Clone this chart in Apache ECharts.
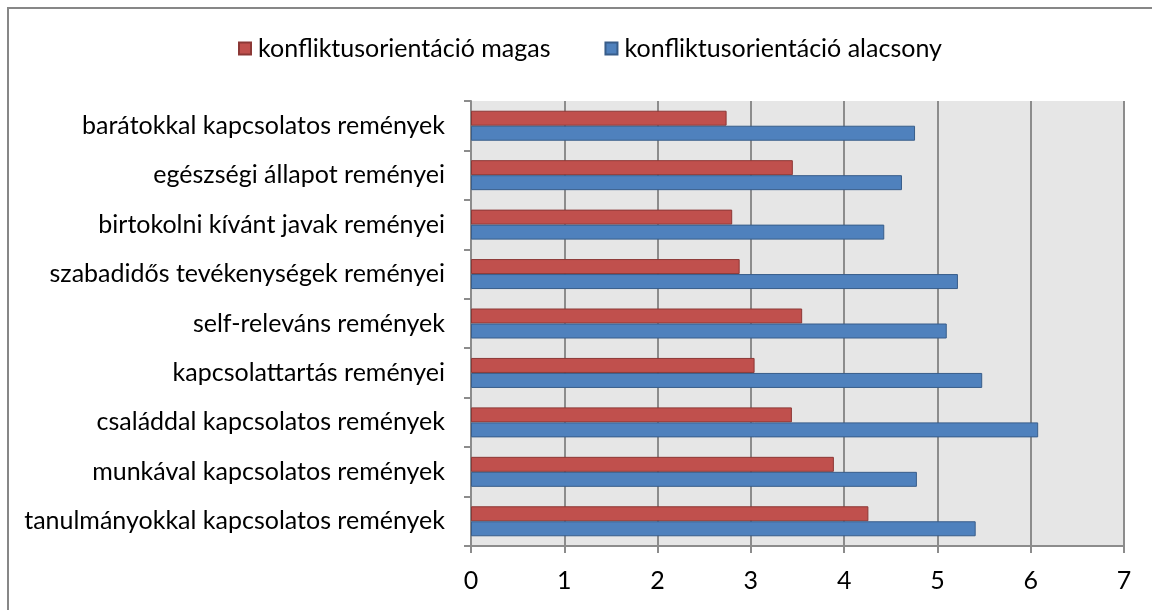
<!DOCTYPE html>
<html>
<head>
<meta charset="utf-8">
<script src="https://cdn.jsdelivr.net/npm/echarts@6/dist/echarts.min.js"></script>
<style>
  html, body { margin: 0; padding: 0; background: #fff; }
  #main { width: 1152px; height: 610px; }
</style>
</head>
<body>
<div id="main"></div>
<script>
// kategóriák alulról felfelé (ECharts y tengely alulról indul)
var categories = [
  'tanulmányokkal kapcsolatos remények',
  'munkával kapcsolatos remények',
  'családdal kapcsolatos remények',
  'kapcsolattartás reményei',
  'self-releváns remények',
  'szabadidős tevékenységek reményei',
  'birtokolni kívánt javak reményei',
  'egészségi állapot reményei',
  'barátokkal kapcsolatos remények'
];
var magas = [4.26, 3.89, 3.44, 3.04, 3.55, 2.88, 2.80, 3.45, 2.74];
var alacsony = [5.41, 4.78, 6.08, 5.48, 5.10, 5.22, 4.43, 4.62, 4.76];
var xTicks = [0, 1, 2, 3, 4, 5, 6, 7];

var font = 'Lato, "Open Sans", sans-serif';
var chart = echarts.init(document.getElementById('main'));

var option = {
  backgroundColor: '#fff',
  animation: false,
  textStyle: { fontFamily: font, color: '#000' },
  graphic: [{
    type: 'rect',
    shape: { x: 8, y: 8, width: 1300, height: 800 },
    style: { fill: 'none', stroke: '#878787', lineWidth: 2 },
    z: 0
  }],
  legend: {
    top: 31,
    left: 233,
    padding: 5,
    itemWidth: 12,
    itemHeight: 12,
    itemGap: 54,
    icon: 'rect',
    textStyle: { fontFamily: font, fontSize: 25, color: '#000', padding: [0, 0, 0, 2] },
    data: ['konfliktusorientáció magas', 'konfliktusorientáció alacsony']
  },
  grid: {
    left: 471,
    right: 28,
    top: 101,
    bottom: 64,
    show: true,
    backgroundColor: '#e6e6e6',
    borderWidth: 0
  },
  xAxis: {
    type: 'value',
    min: xTicks[0],
    max: xTicks[xTicks.length - 1],
    interval: 1,
    axisLine: { show: true, lineStyle: { color: '#8c8c8c', width: 2 } },
    axisTick: { show: true, length: 7, lineStyle: { color: '#8c8c8c', width: 2 } },
    axisLabel: { fontFamily: font, fontSize: 25, color: '#000', margin: 22 },
    splitLine: { show: true, lineStyle: { color: '#8c8c8c', width: 2 } }
  },
  yAxis: {
    type: 'category',
    data: categories,
    axisLine: { show: true, lineStyle: { color: '#8c8c8c', width: 2 } },
    axisTick: { show: true, length: 7, lineStyle: { color: '#8c8c8c', width: 2 } },
    axisLabel: { fontFamily: font, fontSize: 25, color: '#000', margin: 26 }
  },
  series: [{
    name: 'konfliktusorientáció magas',
    type: 'bar',
    data: magas,
    barWidth: 15,
    barGap: '0%',
    itemStyle: { color: '#c0504d', borderColor: '#8c3836', borderWidth: 1 }
  }, {
    name: 'konfliktusorientáció alacsony',
    type: 'bar',
    data: alacsony,
    barWidth: 15,
    barGap: '0%',
    itemStyle: { color: '#4f81bd', borderColor: '#385d8a', borderWidth: 1 }
  }]
};
chart.setOption(option);
</script>
</body>
</html>
